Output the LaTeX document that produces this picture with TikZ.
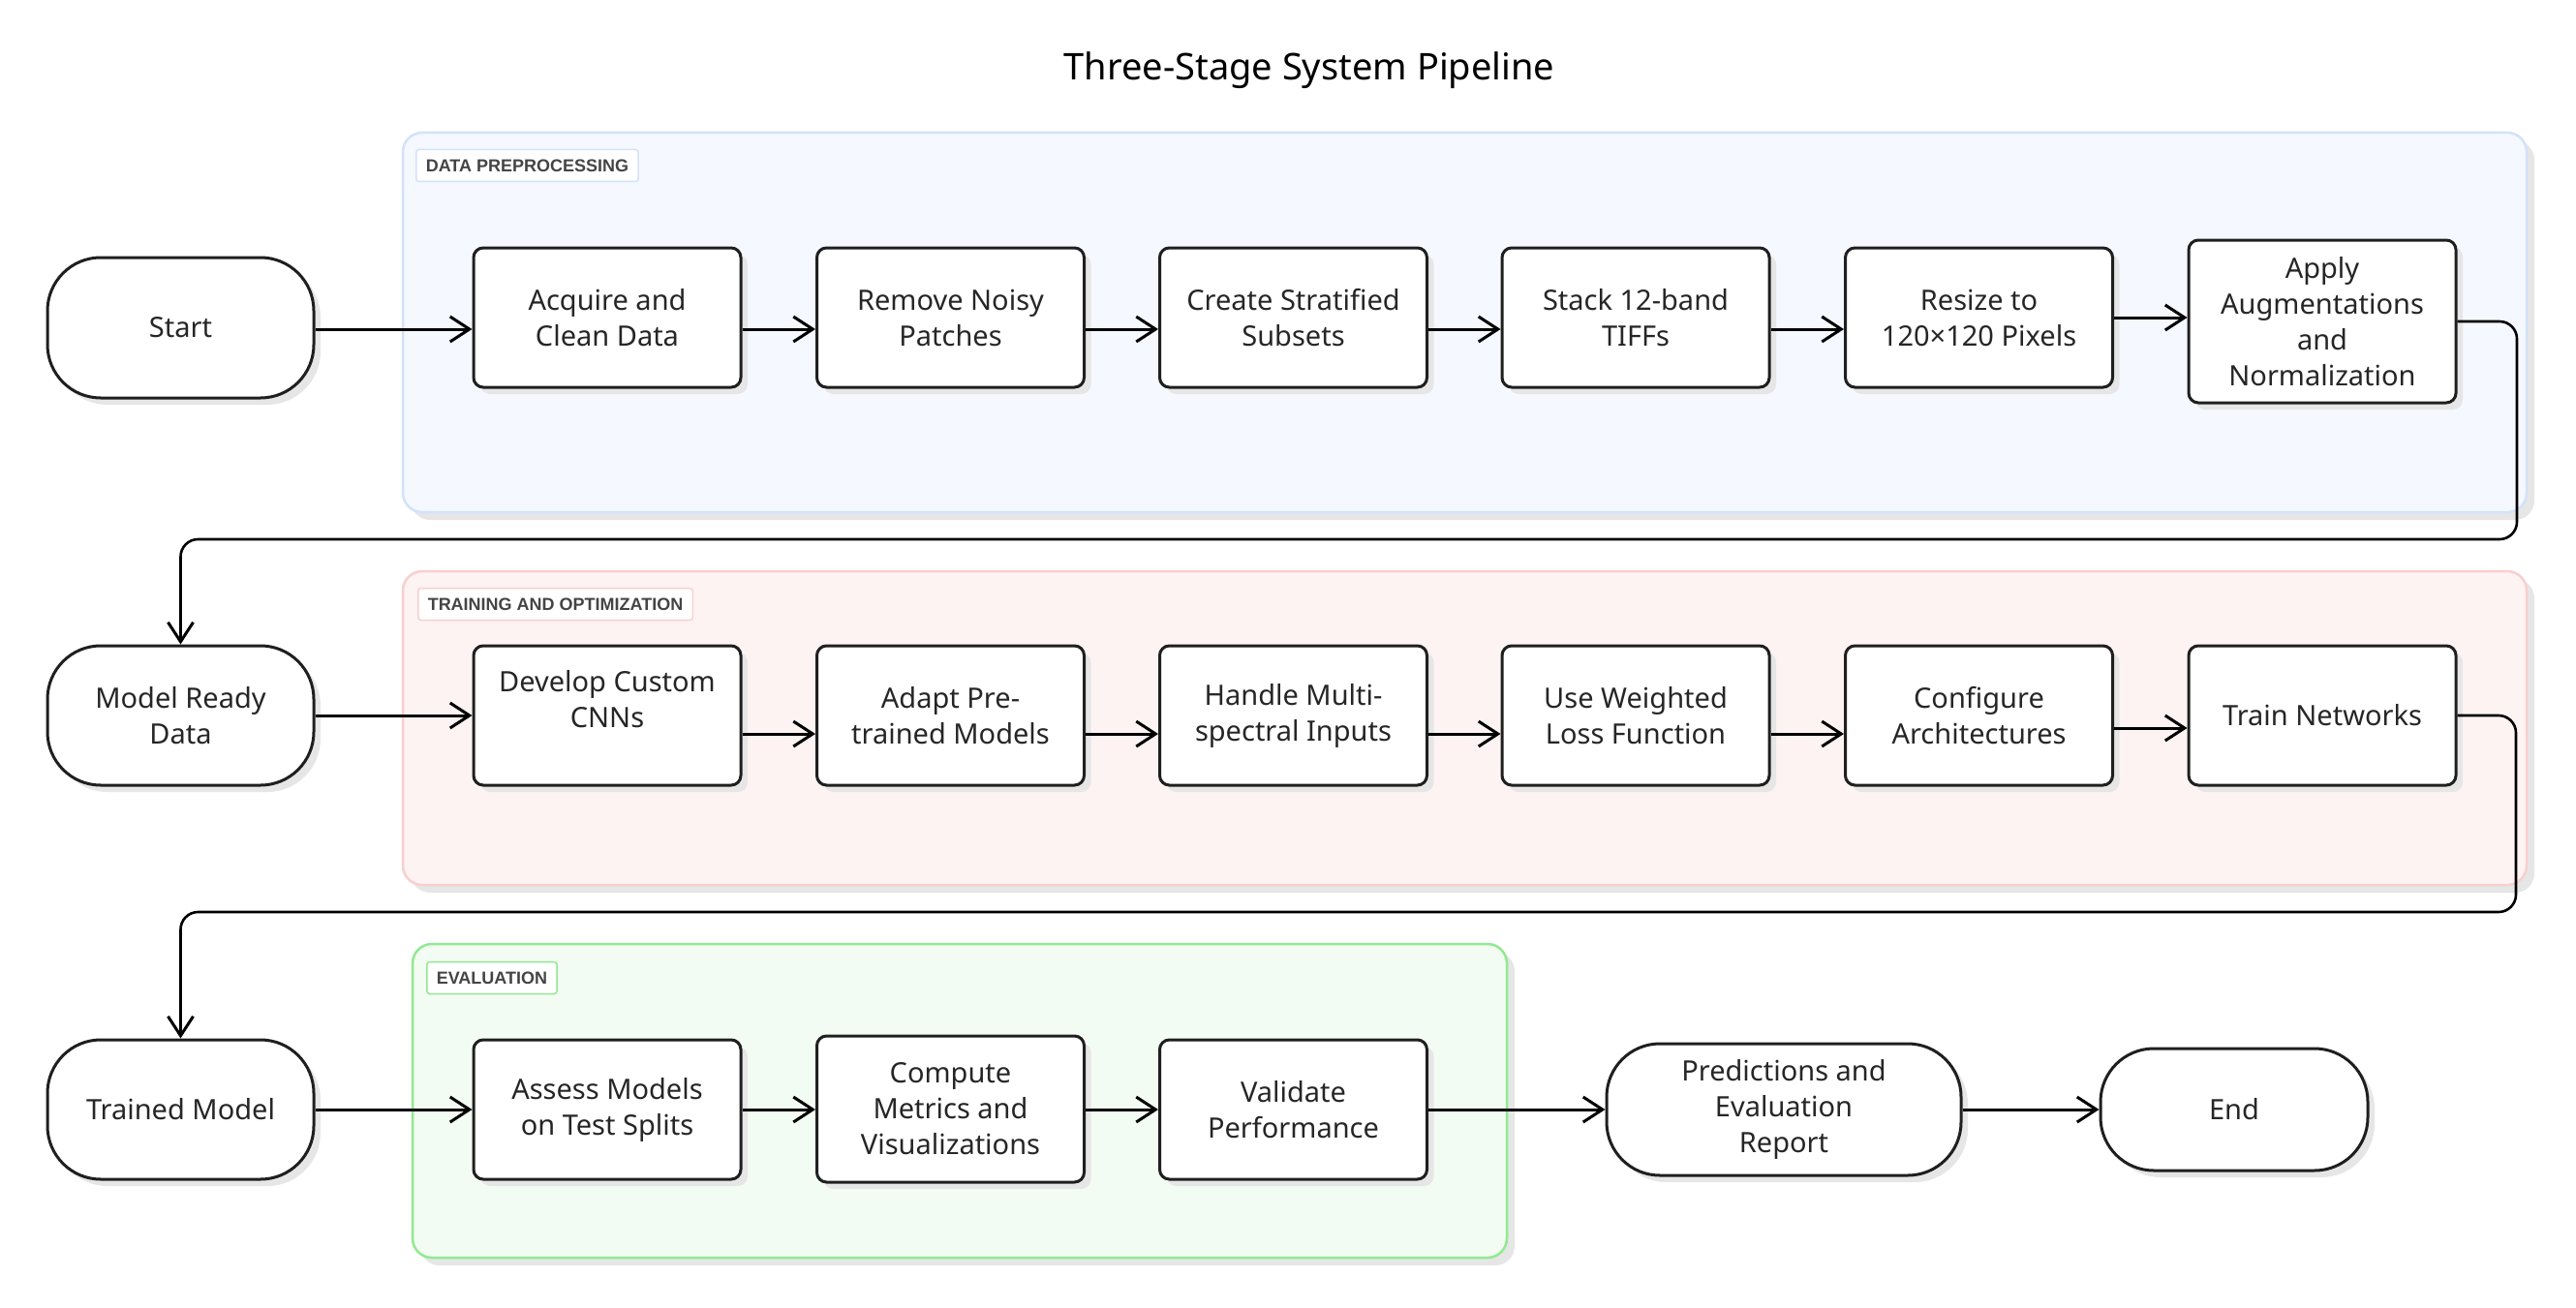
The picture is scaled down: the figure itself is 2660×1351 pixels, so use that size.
\documentclass[tikz,border=0pt]{standalone}
\usepackage{fontspec}
\setmainfont{Noto Sans}
\newfontfamily\lblfam{Liberation Sans}
\usetikzlibrary{arrows.meta,shadows}
\definecolor{txt}{HTML}{262626}
\definecolor{lbltxt}{HTML}{444444}
\definecolor{bluefill}{HTML}{F5F8FE}
\definecolor{blueline}{HTML}{D3E2FA}
\definecolor{redfill}{HTML}{FEF3F3}
\definecolor{redline}{HTML}{F8CFCF}
\definecolor{greenfill}{HTML}{F3FCF3}
\definecolor{greenline}{HTML}{90EA90}
\definecolor{shade}{HTML}{E6E6E6}
\newcommand\nodefnt{\fontsize{29}{37}\selectfont}
\newcommand\lblfnt{\lblfam\bfseries\fontsize{18}{22}\selectfont}
\newcommand\ttlfnt{\fontsize{38}{46}\selectfont}
\begin{document}
\begin{tikzpicture}[x=1pt,y=-1pt,
  sh/.style={general shadow={fill=shade, shadow xshift=7pt, shadow yshift=-7pt}},
  box/.style={sh, draw=black!88, line width=3pt, fill=white, rounded corners=10pt,
    minimum width=276pt, minimum height=144pt, align=center, inner sep=0pt,
    font=\nodefnt, text=txt},
  term/.style={box, rounded corners=55pt, minimum width=275pt},
  clus/.style={line width=2.5pt, rounded corners=20pt,
    preaction={fill=shade, transform canvas={xshift=8pt,yshift=-8pt}}},
  lbl/.style={rounded corners=3pt, line width=1.5pt, fill=white, font=\lblfnt,
    text=lbltxt, inner xsep=10pt, minimum height=33pt, anchor=west},
  conn/.style={line width=3pt, draw=black, -{Straight Barb[length=20pt,width=26pt,line width=3pt]}},
  loopc/.style={conn, line width=2.6pt, rounded corners=18pt}]
\useasboundingbox (0,0) rectangle (2660,1351);
\fill[white] (0,0) rectangle (2660,1351);

% title
\node[font=\ttlfnt, text=black] (title) at (1352,73) {Three-Stage System Pipeline};

% clusters
\draw[clus, draw=blueline, fill=bluefill] (416,137) rectangle (2609,529);
\draw[clus, draw=redline, fill=redfill] (416,590) rectangle (2609,914);
\draw[clus, draw=greenline, fill=greenfill] (426,975) rectangle (1556,1299);
\node[lbl, draw=blueline] (l1) at (429,171) {DATA PREPROCESSING};
\node[lbl, draw=redline] (l2) at (431,624) {TRAINING AND OPTIMIZATION};
\node[lbl, draw=greenline] (l3) at (440,1010) {EVALUATION};

% row 1
\node[term, minimum height=145pt] (start) at (186.5,338.5) {Start};
\node[box] (acq) at (627,328) {Acquire and\\Clean Data};
\node[box] (rem) at (981.5,328) {Remove Noisy\\Patches};
\node[box] (cre) at (1335.5,328) {Create Stratified\\Subsets};
\node[box] (stk) at (1689,328) {Stack 12-band\\TIFFs};
\node[box] (res) at (2043.5,328) {Resize to\\120×120 Pixels};
\node[box, minimum height=168pt] (app) at (2398,332) {Apply\\Augmentations\\and\\Normalization};

% row 2
\node[term] (mrd) at (186.5,739) {Model Ready\\Data};
\node[box] (dev) at (627,739) {};
\node[text=txt, font=\nodefnt, align=center] at (627,722) {Develop Custom\\CNNs};
\node[box] (ada) at (981.5,739) {Adapt Pre-\\trained Models};
\node[box] (han) at (1335.5,739) {Handle Multi-\\spectral Inputs};
\node[box] (use) at (1689,739) {Use Weighted\\Loss Function};
\node[box] (cfg) at (2043.5,739) {Configure\\Architectures};
\node[box] (trn) at (2398,739) {Train Networks};

% row 3
\node[term] (tmd) at (186.5,1146) {Trained Model};
\node[box] (ass) at (627,1146) {Assess Models\\on Test Splits};
\node[box, minimum height=151pt] (cmp) at (981.5,1145.5) {Compute\\Metrics and\\Visualizations};
\node[box] (val) at (1335.5,1146) {Validate\\Performance};
\node[term, minimum width=366pt, minimum height=136pt] (prd) at (1842,1146) {Predictions and\\Evaluation\\Report};
\node[term, minimum width=276pt, minimum height=126pt] (end) at (2307,1146) {End};

% helper coordinates
\coordinate (r1) at (0,340);
\coordinate (r2) at (0,758);
\coordinate (r2b) at (0,752);
\coordinate (k1) at (2599,557);
\coordinate (k2) at (2598,942);

% row 1 connectors
\draw[conn] (start.east |- r1) -- (acq.west |- r1);
\draw[conn] (acq.east |- r1) -- (rem.west |- r1);
\draw[conn] (rem.east |- r1) -- (cre.west |- r1);
\draw[conn] (cre.east |- r1) -- (stk.west |- r1);
\draw[conn] (stk.east |- r1) -- (res.west |- r1);
\draw[conn] (res.east) -- (app.west |- res.east);
\draw[loopc] (app.east) -- (app.east -| k1) -- (k1) -- (k1 -| mrd.north) -- (mrd.north);

% row 2 connectors
\draw[conn] (mrd.east) -- (dev.west);
\draw[conn] (dev.east |- r2) -- (ada.west |- r2);
\draw[conn] (ada.east |- r2) -- (han.west |- r2);
\draw[conn] (han.east |- r2) -- (use.west |- r2);
\draw[conn] (use.east |- r2) -- (cfg.west |- r2);
\draw[conn] (cfg.east |- r2b) -- (trn.west |- r2b);
\draw[loopc] (trn.east) -- (trn.east -| k2) -- (k2) -- (k2 -| tmd.north) -- (tmd.north);

% row 3 connectors
\draw[conn] (tmd.east) -- (ass.west);
\draw[conn] (ass.east) -- (cmp.west |- ass.east);
\draw[conn] (cmp.east |- ass.east) -- (val.west);
\draw[conn] (val.east) -- (prd.west);
\draw[conn] (prd.east) -- (end.west);
\end{tikzpicture}
\end{document}
